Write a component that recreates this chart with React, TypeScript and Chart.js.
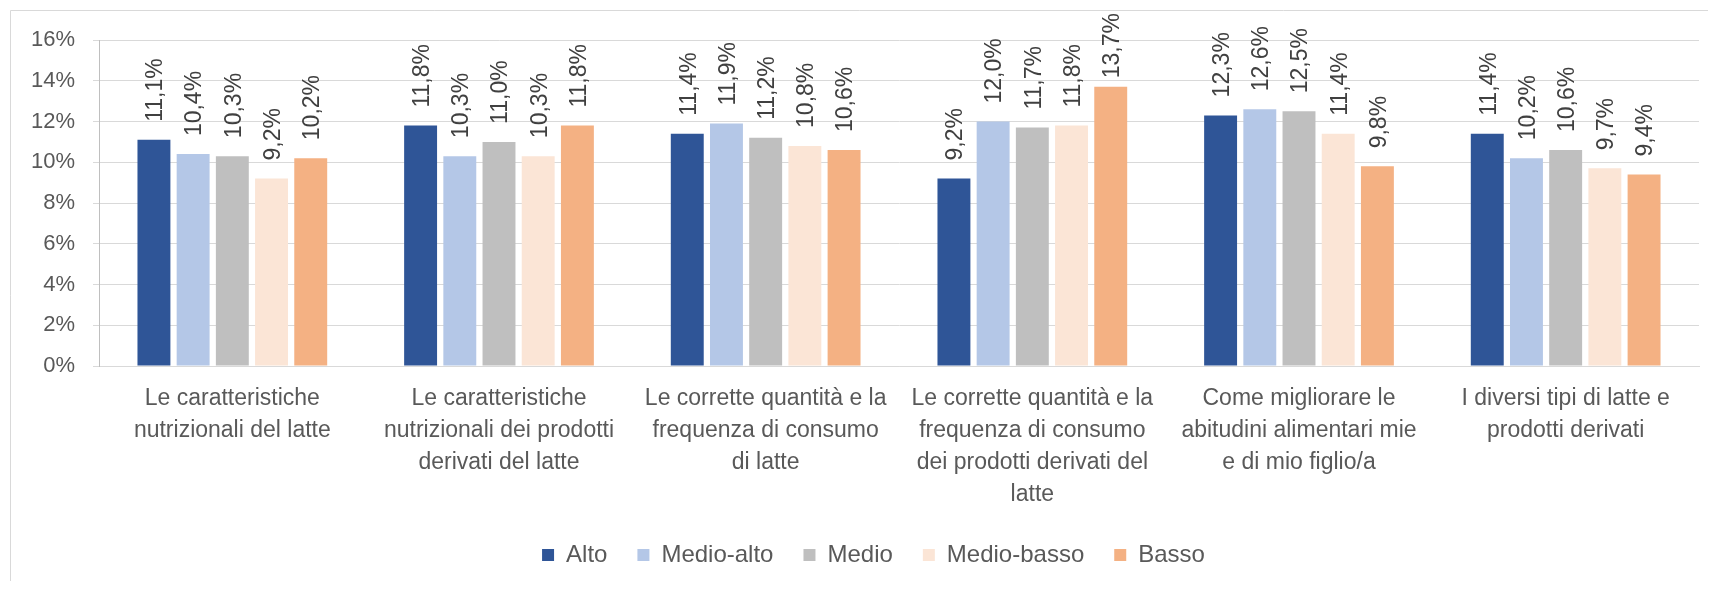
import React, { useEffect, useRef } from "react";
import { Chart, registerables } from "chart.js";

Chart.register(...registerables);

const categories: string[][] = [
  ["Le caratteristiche", "nutrizionali del latte"],
  ["Le caratteristiche", "nutrizionali dei prodotti", "derivati del latte"],
  ["Le corrette quantità e la", "frequenza di consumo", "di latte"],
  ["Le corrette quantità e la", "frequenza di consumo", "dei prodotti derivati del", "latte"],
  ["Come migliorare le", "abitudini alimentari mie", "e di mio figlio/a"],
  ["I diversi tipi di latte e", "prodotti derivati"],
];

const seriesNames = ["Alto", "Medio-alto", "Medio", "Medio-basso", "Basso"];

const alto = [11.1, 11.8, 11.4, 9.2, 12.3, 11.4];
const medioAlto = [10.4, 10.3, 11.9, 12.0, 12.6, 10.2];
const medio = [10.3, 11.0, 11.2, 11.7, 12.5, 10.6];
const medioBasso = [9.2, 10.3, 10.8, 11.8, 11.4, 9.7];
const basso = [10.2, 11.8, 10.6, 13.7, 9.8, 9.4];

const seriesColors = ["#2F5597", "#B4C7E7", "#BFBFBF", "#FBE5D6", "#F4B183"];

const yTicks = [0, 2, 4, 6, 8, 10, 12, 14, 16];

const FONT = '"Liberation Sans", Arial, sans-serif';
const GRID = "#d9d9d9";

const fmt = (v: number) => v.toFixed(1).replace(".", ",") + "%";

const dataLabelPlugin = {
  id: "dataLabels",
  afterDatasetsDraw(chart: any) {
    const ctx = chart.ctx;
    ctx.save();
    ctx.font = `23px ${FONT}`;
    ctx.fillStyle = "#404040";
    ctx.textAlign = "left";
    ctx.textBaseline = "middle";
    chart.data.datasets.forEach((ds: any, di: number) => {
      const meta = chart.getDatasetMeta(di);
      meta.data.forEach((bar: any, i: number) => {
        const text = fmt(ds.data[i]);
        const w = ctx.measureText(text).width;
        let start = bar.y - 18;
        if (start - w < 5) start = 5 + w;
        ctx.save();
        ctx.translate(bar.x + 2, start);
        ctx.rotate(-Math.PI / 2);
        ctx.fillText(text, 0, 0);
        ctx.restore();
      });
    });
    ctx.restore();
  },
};

const frameP = {
  id: "frame",
  afterLayout(chart: any) {
    if (chart.legend) {
      chart.legend.left += 20;
      chart.legend.right += 20;
    }
  },
  beforeDraw(chart: any) {
    const ctx = chart.ctx;
    ctx.save();
    ctx.fillStyle = "#ffffff";
    ctx.fillRect(0, 0, chart.width, chart.height);
    ctx.strokeStyle = "#d9d9d9";
    ctx.lineWidth = 1;
    ctx.beginPath();
    ctx.moveTo(2.5, chart.height);
    ctx.lineTo(2.5, 2.5);
    ctx.lineTo(chart.width, 2.5);
    ctx.stroke();
    ctx.restore();
  },
};

export default function App() {
  const ref = useRef<HTMLCanvasElement | null>(null);

  useEffect(() => {
    if (!ref.current) return;
    const values = [alto, medioAlto, medio, medioBasso, basso];
    const chart = new Chart(ref.current, {
      type: "bar",
      data: {
        labels: categories,
        datasets: seriesNames.map((name, i) => ({
          label: name,
          data: values[i],
          backgroundColor: seriesColors[i],
          borderWidth: 0,
          categoryPercentage: 0.735,
          barPercentage: 0.84,
        })),
      },
      options: {
        responsive: false,
        animation: false,
        devicePixelRatio: 1,
        layout: { padding: { left: 0, right: 9, top: 32, bottom: 4 } },
        plugins: {
          legend: {
            position: "bottom",
            labels: {
              font: { family: FONT, size: 24 },
              color: "#595959",
              boxWidth: 12,
              boxHeight: 12,
              padding: 30,
            },
          },
          tooltip: { enabled: false },
        },
        scales: {
          x: {
            grid: { display: false, drawTicks: false },
            border: { display: true, color: GRID, width: 1 },
            ticks: {
              font: { family: FONT, size: 23, lineHeight: 1.39 },
              color: "#595959",
              padding: 17,
              maxRotation: 0,
              autoSkip: false,
            },
            afterFit: (axis: any) => {
              axis.height = 147;
            },
          },
          y: {
            min: 0,
            max: 16,
            afterBuildTicks: (axis: any) => {
              axis.ticks = yTicks.map((v) => ({ value: v }));
            },
            grid: { color: GRID, tickLength: 6, drawTicks: true },
            border: { display: true, color: "#bfbfbf", width: 1 },
            ticks: {
              font: { family: FONT, size: 22 },
              color: "#595959",
              padding: 18,
              callback: (v: any) => `${v}%`,
            },
            afterFit: (axis: any) => {
              axis.width = 91;
            },
          },
        },
      },
      plugins: [frameP, dataLabelPlugin],
    });
    return () => chart.destroy();
  }, []);

  return (
    <div style={{ width: 1700, height: 573 }}>
      <canvas ref={ref} width={1700} height={573} style={{ display: "block", width: 1700, height: 573 }} />
    </div>
  );
}
